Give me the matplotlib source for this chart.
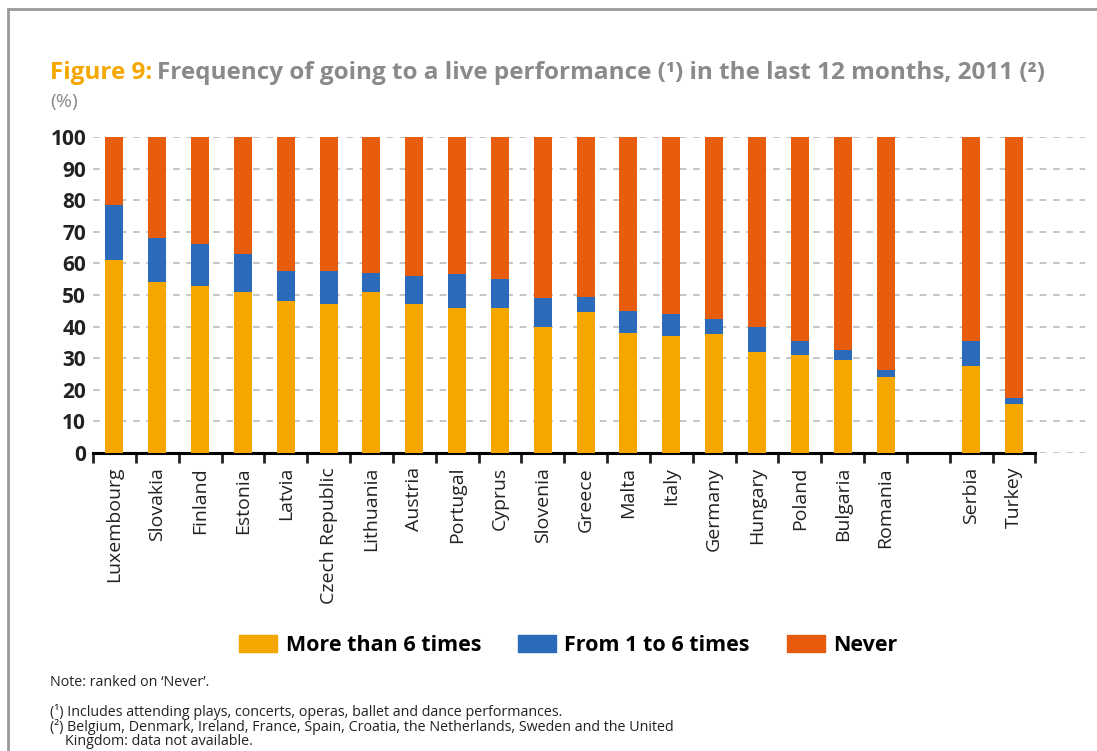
import matplotlib.pyplot as plt
import matplotlib.patches as mpatches
import numpy as np

countries = ['Luxembourg', 'Slovakia', 'Finland', 'Estonia', 'Latvia', 'Czech Republic',
             'Lithuania', 'Austria', 'Portugal', 'Cyprus', 'Slovenia', 'Greece', 'Malta',
             'Italy', 'Germany', 'Hungary', 'Poland', 'Bulgaria', 'Romania', '', 'Serbia', 'Turkey']
more6 = [61, 54, 53, 51, 48, 47, 51, 47, 46, 46, 40, 44.5, 38, 37, 37.5, 32, 31, 29.5, 24, 0, 27.5, 15.5]
from1to6 = [17.5, 14, 13, 12, 9.5, 10.5, 6, 9, 10.5, 9, 9, 5, 7, 7, 5, 8, 4.5, 3, 2.3, 0, 8, 2]
never = [100 - a - b if c else 0 for a, b, c in zip(more6, from1to6, countries)]

c_more = '#F5A700'
c_mid = '#2B6BBA'
c_never = '#E85C0D'
grey_txt = '#8A8A8A'
fam = ['Open Sans', 'DejaVu Sans']

fig = plt.figure(figsize=(10.97, 7.51), dpi=100)
ax = fig.add_axes([0.0848, 0.3968, 0.904, 0.4208])

x = np.arange(len(countries))
w = 0.42
ax.bar(x, more6, w, color=c_more, zorder=3)
ax.bar(x, from1to6, w, bottom=more6, color=c_mid, zorder=3)
ax.bar(x, never, w, bottom=np.add(more6, from1to6), color=c_never, zorder=3)

ax.set_ylim(0, 100)
ax.set_xlim(-0.5, len(countries) - 0.5 + 1.15)
ax.set_yticks(range(0, 101, 10))
ax.set_yticklabels([str(v) for v in range(0, 101, 10)], fontsize=15, fontweight='bold',
                   family=fam, color='#222222')
ax.tick_params(axis='y', length=0, pad=5)
ax.yaxis.grid(True, linestyle=(0, (4, 4)), color='#BBBBBB', linewidth=1.2, zorder=0)

# boundary ticks and centred labels
ax.set_xticks(np.arange(-0.5, len(countries), 1.0))
ax.set_xticklabels([])
ax.tick_params(axis='x', which='major', direction='out', length=7, width=2, color='#222222')
ax.set_xticks(x, minor=True)
ax.set_xticklabels(countries, minor=True, rotation=90, fontsize=14, family=fam, color='#222222')
ax.tick_params(axis='x', which='minor', length=0, pad=10)

for s in ['left', 'right', 'top']:
    ax.spines[s].set_visible(False)
ax.spines['bottom'].set_linewidth(2.2)
ax.spines['bottom'].set_bounds(-0.5, len(countries) - 0.5)

# title in two colours
fig.canvas.draw()
r = fig.canvas.get_renderer()
t1 = fig.text(0.0456, 0.895, 'Figure 9:', fontsize=17.5, fontweight='bold', color=c_more, family=fam)
bb = t1.get_window_extent(r)
fig.text(bb.x1 / fig.bbox.width + 0.004, 0.895,
         'Frequency of going to a live performance (\u00b9) in the last 12 months, 2011 (\u00b2)',
         fontsize=17.5, fontweight='bold', color=grey_txt, family=fam)
fig.text(0.0456, 0.858, '(%)', fontsize=14, color=grey_txt, family=fam)

# legend
handles = [mpatches.Patch(color=c_more, label='More than 6 times'),
           mpatches.Patch(color=c_mid, label='From 1 to 6 times'),
           mpatches.Patch(color=c_never, label='Never')]
fig.legend(handles=handles, loc='center', bbox_to_anchor=(0.518, 0.14), ncol=3, frameon=False,
           prop={'family': fam, 'weight': 'bold', 'size': 15.5}, handlelength=1.77,
           handleheight=0.84, columnspacing=1.7, handletextpad=0.4)

# notes
nf = {'fontsize': 10.3, 'family': fam, 'color': '#222222', 'va': 'center'}
fig.text(0.0456, 1 - 683 / 751, "Note: ranked on \u2018Never\u2019.", **nf)
fig.text(0.0456, 1 - 712 / 751, '(\u00b9) Includes attending plays, concerts, operas, ballet and dance performances.', **nf)
fig.text(0.0456, 1 - 727 / 751, '(\u00b2) Belgium, Denmark, Ireland, France, Spain, Croatia, the Netherlands, Sweden and the United', **nf)
fig.text(0.059, 1 - 741.5 / 751, 'Kingdom: data not available.', **nf)

# page frame (left and top edges)
fig.add_artist(mpatches.Rectangle((8 / 1097, -0.1), 1.2, 1 - 9 / 751 + 0.1, transform=fig.transFigure,
                                  fill=False, edgecolor='#999999', linewidth=2))

plt.savefig('out.png', dpi=100)
